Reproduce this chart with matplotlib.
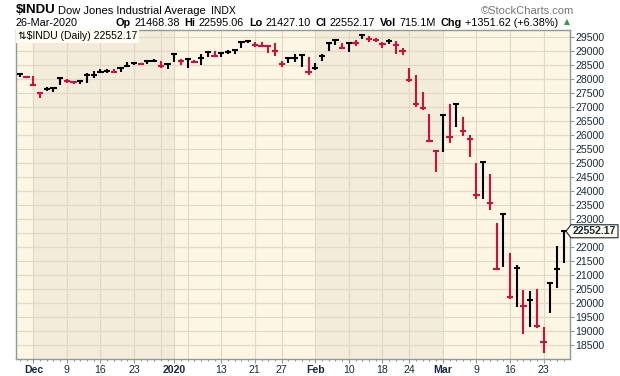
import numpy as np
import matplotlib
matplotlib.use("Agg")
import matplotlib.pyplot as plt
from matplotlib.patches import Polygon

plt.rcParams['font.family'] = ['Liberation Sans', 'DejaVu Sans']

# daily HLC for $INDU
dates = ["2019-11-27", "2019-11-29",
         "2019-12-02", "2019-12-03", "2019-12-04", "2019-12-05", "2019-12-06",
         "2019-12-09", "2019-12-10", "2019-12-11", "2019-12-12", "2019-12-13",
         "2019-12-16", "2019-12-17", "2019-12-18", "2019-12-19", "2019-12-20",
         "2019-12-23", "2019-12-24", "2019-12-26", "2019-12-27",
         "2019-12-30", "2019-12-31", "2020-01-02", "2020-01-03",
         "2020-01-06", "2020-01-07", "2020-01-08", "2020-01-09", "2020-01-10",
         "2020-01-13", "2020-01-14", "2020-01-15", "2020-01-16", "2020-01-17",
         "2020-01-21", "2020-01-22", "2020-01-23", "2020-01-24",
         "2020-01-27", "2020-01-28", "2020-01-29", "2020-01-30", "2020-01-31",
         "2020-02-03", "2020-02-04", "2020-02-05", "2020-02-06", "2020-02-07",
         "2020-02-10", "2020-02-11", "2020-02-12", "2020-02-13", "2020-02-14",
         "2020-02-18", "2020-02-19", "2020-02-20", "2020-02-21",
         "2020-02-24", "2020-02-25", "2020-02-26", "2020-02-27", "2020-02-28",
         "2020-03-02", "2020-03-03", "2020-03-04", "2020-03-05", "2020-03-06",
         "2020-03-09", "2020-03-10", "2020-03-11", "2020-03-12", "2020-03-13",
         "2020-03-16", "2020-03-17", "2020-03-18", "2020-03-19", "2020-03-20",
         "2020-03-23", "2020-03-24", "2020-03-25", "2020-03-26"]

highs = [28175, 28110,
         28100, 27515, 27690, 27690, 28030,
         28000, 27920, 27925, 28220, 28290,
         28337, 28340, 28330, 28380, 28608,
         28582, 28560, 28625, 28701,
         28640, 28547, 28872, 28716,
         28709, 28685, 28866, 28960, 28995,
         28910, 29009, 29075, 29300, 29373,
         29300, 29300, 29190, 29290,
         28640, 28780, 28900, 28860, 28780,
         28560, 28900, 29308, 29380, 29290,
         29277, 29400, 29568, 29510, 29470,
         29300, 29406, 29340, 29080,
         28400, 28140, 27530, 26750, 25460,
         26706, 27084, 27102, 26640, 25994,
         24992, 25020, 24604, 22837, 23186,
         21768, 21340, 20460, 20430, 20500,
         19121, 20705, 22019, 22595]

lows = [28070, 28030,
        27750, 27325, 27560, 27510, 27790,
        27860, 27820, 27800, 27840, 28028,
        28191, 28220, 28225, 28250, 28410,
        28480, 28495, 28535, 28608,
        28390, 28330, 28580, 28500,
        28400, 28550, 28480, 28790, 28780,
        28790, 28870, 28880, 29090, 29280,
        29150, 29150, 28930, 28810,
        28420, 28550, 28600, 28430, 28140,
        28320, 28640, 29000, 29210, 29060,
        28960, 29160, 29410, 29300, 29300,
        29080, 29250, 28890, 28850,
        27900, 26990, 26900, 25760, 24680,
        25390, 25706, 26286, 25943, 25200,
        23690, 23690, 23328, 21154, 21285,
        20116, 19830, 18900, 19130, 19100,
        18213, 19649, 20538, 21427]

closes = [28164.00, 28051.41,
          27783.04, 27502.81, 27649.78, 27677.79, 28015.06,
          27909.60, 27881.72, 27911.30, 28132.05, 28135.38,
          28235.89, 28267.16, 28239.28, 28376.96, 28455.09,
          28551.53, 28515.45, 28621.39, 28645.26,
          28462.14, 28538.44, 28868.80, 28634.88,
          28703.38, 28583.68, 28745.09, 28956.90, 28823.77,
          28907.05, 28939.67, 29030.22, 29297.64, 29348.10,
          29196.04, 29186.27, 29160.09, 28989.73,
          28535.80, 28722.85, 28734.45, 28859.44, 28256.03,
          28399.81, 28807.63, 29290.85, 29379.77, 29102.51,
          29276.82, 29276.34, 29551.42, 29423.31, 29398.08,
          29232.19, 29348.03, 29219.98, 28992.41,
          27960.80, 27081.36, 26957.59, 25766.64, 25409.36,
          26703.32, 25917.41, 27090.86, 26121.28, 25864.78,
          23851.02, 25018.16, 23553.22, 21200.62, 23185.62,
          20188.52, 21237.38, 19898.92, 20087.19, 19173.98,
          18591.93, 20704.91, 21200.55, 22552.17]

prev_close = 28121.68

tick_dates = ["2019-12-02", "2019-12-09", "2019-12-16", "2019-12-23", "2020-01-02",
              "2020-01-13", "2020-01-21", "2020-01-27", "2020-02-03", "2020-02-10",
              "2020-02-18", "2020-02-24", "2020-03-02", "2020-03-09", "2020-03-16",
              "2020-03-23"]
tick_labels = ["Dec", "9", "16", "23", "2020", "13", "21", "27", "Feb", "10",
               "18", "24", "Mar", "9", "16", "23"]
extra_grid = ["2019-12-30", "2020-01-06"]
shaded = [("2019-12-02", "2020-01-02"), ("2020-02-03", "2020-03-02")]

W, H = 620, 376
fig = plt.figure(figsize=(W / 100, H / 100), dpi=100)
L, R, T, B = 16, 570, 30, 359
ax = fig.add_axes([L / W, 1 - B / H, (R - L) / W, (B - T) / H])

pos = {d: i for i, d in enumerate(dates)}
x = np.arange(len(dates))
prevs = [prev_close] + closes[:-1]
red = '#D0103A'
cols = ['black' if c >= p else red for c, p in zip(closes, prevs)]

ax.set_facecolor('#FDF6E4')
for a, b in shaded:
    ax.axvspan(pos[a], pos[b], color='#F4ECDB', lw=0, zorder=0)
gcol = '#E3DAC5'
for d in tick_dates + extra_grid:
    ax.axvline(pos[d], color=gcol, lw=0.9, zorder=1)
yt = np.arange(18500, 30000, 500)
for v in yt:
    ax.axhline(v, color=gcol, lw=0.9, zorder=1)

ax.vlines(x, lows, highs, colors=cols, linewidth=1.5, zorder=3)
ax.hlines(closes, x - 0.47, x + 0.47, colors=cols, linewidth=1.5, zorder=3)

ax.set_xlim(-0.58, 81.94)
ax.set_ylim(17990, 29740)

for s in ax.spines.values():
    s.set_color('#8C9A9A')
    s.set_linewidth(1)

tcol = '#1B2B3B'
ax.yaxis.tick_right()
ax.set_yticks(yt)
# the 22500 label sits under the last-price box
ax.set_yticklabels(['' if v == 22500 else str(v) for v in yt])
ax.tick_params(axis='y', length=3, width=0.8, color='#8C9A9A', pad=1,
               labelsize=7.6, labelcolor=tcol)

ax.set_xticks([pos[d] for d in tick_dates])
ax.set_xticklabels(tick_labels)
for lab, txt in zip(ax.get_xticklabels(), tick_labels):
    if not txt.isdigit() or len(txt) == 4:
        lab.set_fontweight('bold')
ax.set_xticks(x, minor=True)
ax.tick_params(axis='x', which='major', length=3, width=0.8, color='#8C9A9A',
               pad=1.5, labelsize=7.6, labelcolor=tcol)
ax.tick_params(axis='x', which='minor', length=1.5, width=0.8, color='#8C9A9A')

# legend box in the corner
ax.text(2 / (R - L), 1 - 6 / (B - T), "\u21c5$INDU (Daily) 22552.17",
        transform=ax.transAxes, fontsize=7.5, color='black', va='center', ha='left',
        bbox=dict(boxstyle='square,pad=0.15', fc='#FFFCF2', ec='none'), zorder=5)

# last price marker on the right
py = H - ax.transData.transform((0, closes[-1]))[1]
box = [(566, py), (571, py - 6.5), (618, py - 6.5), (618, py + 6.5), (571, py + 6.5)]
fig.patches.append(Polygon([(px / W, 1 - yy / H) for px, yy in box], closed=True,
                           transform=fig.transFigure, fc='#FFFBEA', ec=tcol, lw=0.8))
fig.text(573 / W, 1 - py / H, "22552.17", fontsize=7.6, fontweight='bold',
         color=tcol, va='center', ha='left')

# header
def ft(px, py, s, **kw):
    return fig.text(px / W, 1 - py / H, s, va='center', ha='left', **kw)

ft(16, 10, "$INDU", fontsize=9.5, fontweight='bold')
ft(58, 10.5, "Dow Jones Industrial Average", fontsize=8)
ft(211, 10.5, "INDX", fontsize=7.5)
fig.text(574 / W, 1 - 10.5 / H, "\u00a9StockCharts.com", fontsize=8, color='#777777',
         va='center', ha='right')

ft(16, 22.5, "26-Mar-2020", fontsize=7.8)
fig.canvas.draw()
rend = fig.canvas.get_renderer()
pieces = [("Op", True), ("21468.38", False), ("Hi", True), ("22595.06", False),
          ("Lo", True), ("21427.10", False), ("Cl", True), ("22552.17", False),
          ("Vol", True), ("715.1M", False), ("Chg", True), ("+1351.62 (+6.38%)", False)]
cx = 116
for s, bold in pieces:
    t = ft(cx, 22.5, s, fontsize=7.8, fontweight='bold' if bold else 'normal')
    bb = t.get_window_extent(rend)
    cx += bb.width + (3 if bold else 5)
ft(cx + 1, 22, "\u25b2", fontsize=5.5, color='#2E9A3A', family=['DejaVu Sans'])

fig.savefig("out.png", dpi=100, facecolor='white')
